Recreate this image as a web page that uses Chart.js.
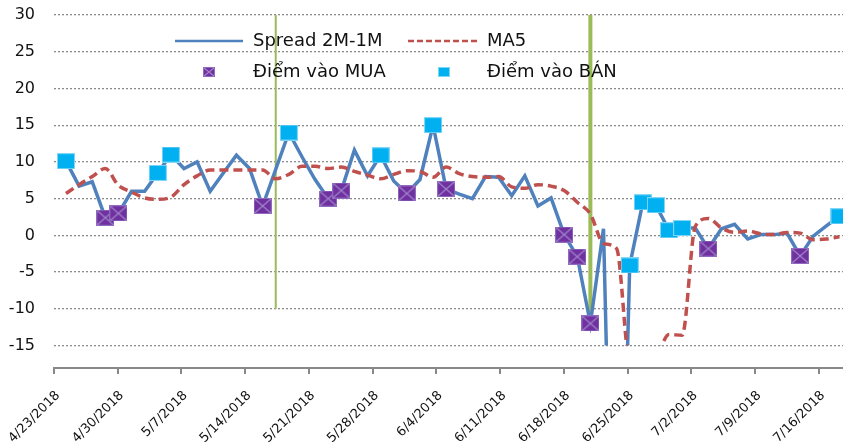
<!DOCTYPE html>
<html>
<head>
<meta charset="utf-8">
<script src="https://cdn.jsdelivr.net/npm/chart.js@4.4.1/dist/chart.umd.min.js"></script>
<style>
  html, body { margin: 0; padding: 0; background: #fff; }
  #wrap { width: 843px; height: 442px; }
</style>
</head>
<body>
<div id="wrap"><canvas id="chart"></canvas></div>
<script>
// weekly date labels on the bottom axis (one every 7 days from 4/23)
const weekLabels = ['4/23/2018', '4/30/2018', '5/7/2018', '5/14/2018', '5/21/2018', '5/28/2018',
  '6/4/2018', '6/11/2018', '6/18/2018', '6/25/2018', '7/2/2018', '7/9/2018', '7/16/2018'];

// spread 2M-1M, one value per session
const spread = [10.1, 6.7, 7.3, 2.4, 3.0, 6.0, 6.0, 8.5, 11.0, 9.1,
  10.0, 6.0, 8.5, 10.9, 9.1, 4.0, 9.0, 14.0, 10.7, 7.6,
  5.0, 6.1, 11.6, 8.1, 10.9, 7.4, 5.7, 7.6, 15.0, 6.3,
  5.6, 5.0, 8.0, 7.9, 5.4, 8.1, 4.0, 5.1, 0.1, -2.9,
  -12.0, 0.9, -73, -4.1, 4.5, 4.1, 0.7, 1.0, 1.0, -1.8,
  0.9, 1.5, -0.5, 0.1, 0.1, 0.3, -2.8, -0.1, 1.3, 2.6];

const ma5 = [5.7, 6.9, 8.0, 9.1, 6.8, 5.9, 5.1, 4.9, 5.2, 6.9,
  8.1, 8.9, 8.9, 8.9, 8.9, 8.9, 7.7, 8.3, 9.4, 9.4,
  9.1, 9.3, 8.7, 8.2, 7.7, 8.3, 8.8, 8.7, 7.9, 9.3,
  8.4, 8.0, 7.9, 8.0, 6.6, 6.4, 6.9, 6.7, 6.1, 4.5,
  2.9, -1.1, -1.8, -17.4, -18.2, -16.7, -13.5, -13.6, 1.2, 2.3,
  1.0, 0.4, 0.6, 0.2, 0.1, 0.4, 0.3, -0.6, -0.5, -0.2];

// sessions flagged as entry points
const buyIdx = [3, 4, 15, 20, 21, 26, 29, 38, 39, 40, 49, 56];
const sellIdx = [0, 7, 8, 17, 24, 28, 43, 44, 45, 46, 47, 59];

// green signal lines: session index and how low they reach
const signalIdx = [16, 40];
const signalLow = [-10, -11];

const seriesNames = ['Spread 2M-1M', 'MA5', 'Điểm vào MUA', 'Điểm vào BÁN'];

const BLUE = '#4F81BD', RED = '#C0504D', PURPLE = '#7030A0', CYAN = '#00B0F0', GREEN = '#9BBB59';
const yFloor = -15;

function makeMarker(w, h, fill, edge, cross) {
  const c = document.createElement('canvas');
  c.width = w; c.height = h;
  const g = c.getContext('2d');
  g.fillStyle = fill;
  g.fillRect(0, 0, w, h);
  g.strokeStyle = edge;
  g.lineWidth = 1;
  g.strokeRect(0.5, 0.5, w - 1, h - 1);
  if (cross) {
    g.strokeStyle = cross;
    g.lineWidth = 1.2;
    g.beginPath();
    g.moveTo(1, 1); g.lineTo(w - 1, h - 1);
    g.moveTo(w - 1, 1); g.lineTo(1, h - 1);
    g.stroke();
  }
  return c;
}

const buyMark = makeMarker(18, 16, PURPLE, '#8E6BBE', '#9F86C9');
const sellMark = makeMarker(18, 16, CYAN, '#7FD6F7');
const buyMarkSmall = makeMarker(12, 10, PURPLE, '#8E6BBE', '#9F86C9');
const sellMarkSmall = makeMarker(12, 10, CYAN, '#7FD6F7');

// keep the lines inside the -15 floor and draw the signal lines behind them
const floorClip = {
  id: 'floorClip',
  beforeDatasetsDraw(chart) {
    const { ctx, chartArea: a, scales } = chart;
    const floor = scales.y.getPixelForValue(yFloor);
    ctx.save();
    ctx.beginPath();
    ctx.rect(a.left, a.top - 10, a.right - a.left, floor - a.top + 10);
    ctx.clip();
    signalIdx.forEach((idx, k) => {
      const x = scales.xi.getPixelForValue(idx);
      ctx.strokeStyle = GREEN;
      ctx.lineWidth = k === 0 ? 2 : 4;
      ctx.beginPath();
      ctx.moveTo(x, scales.y.getPixelForValue(30));
      ctx.lineTo(x, scales.y.getPixelForValue(signalLow[k]));
      ctx.stroke();
    });
  },
  afterDatasetsDraw(chart) {
    chart.ctx.restore();
  }
};

const insideLegend = {
  id: 'insideLegend',
  afterDraw(chart) {
    const ctx = chart.ctx;
    ctx.save();
    ctx.font = '18px "DejaVu Sans"';
    ctx.fillStyle = '#111';
    ctx.textBaseline = 'middle';
    // row 1
    ctx.strokeStyle = BLUE; ctx.lineWidth = 2.5;
    ctx.beginPath(); ctx.moveTo(175, 41); ctx.lineTo(243, 41); ctx.stroke();
    ctx.fillText(seriesNames[0], 253, 41);
    ctx.strokeStyle = RED; ctx.lineWidth = 2.5; ctx.setLineDash([6, 3]);
    ctx.beginPath(); ctx.moveTo(408, 41); ctx.lineTo(480, 41); ctx.stroke();
    ctx.setLineDash([]);
    ctx.fillText(seriesNames[1], 487, 41);
    // row 2
    ctx.drawImage(buyMarkSmall, 209 - 6, 72 - 5);
    ctx.fillText(seriesNames[2], 253, 72);
    ctx.drawImage(sellMarkSmall, 444 - 6, 72 - 5);
    ctx.fillText(seriesNames[3], 487, 72);
    ctx.restore();
  }
};

const pts = spread.map((v, i) => ({ x: i, y: v }));
const maPts = ma5.map((v, i) => ({ x: i, y: v }));
const buyPts = buyIdx.map(i => ({ x: i, y: spread[i] }));
const sellPts = sellIdx.map(i => ({ x: i, y: spread[i] }));

new Chart(document.getElementById('chart'), {
  type: 'line',
  data: {
    datasets: [
      { label: seriesNames[0], data: pts, xAxisID: 'xi', borderColor: BLUE, borderWidth: 3.5,
        pointRadius: 0, tension: 0, order: 3 },
      { label: seriesNames[1], data: maPts, xAxisID: 'xi', borderColor: RED, borderWidth: 3.5,
        borderDash: [9, 5], pointRadius: 0, cubicInterpolationMode: 'monotone', order: 2 },
      { label: seriesNames[2], data: buyPts, xAxisID: 'xi', showLine: false,
        pointStyle: buyMark, pointRadius: 9, order: 1 },
      { label: seriesNames[3], data: sellPts, xAxisID: 'xi', showLine: false,
        pointStyle: sellMark, pointRadius: 9, order: 0 }
    ]
  },
  options: {
    responsive: true,
    maintainAspectRatio: false,
    animation: false,
    layout: { autoPadding: false, padding: { top: 15, right: 0, bottom: 0, left: 0 } },
    plugins: { legend: { display: false }, tooltip: { enabled: false } },
    scales: {
      xi: { type: 'linear', display: false, min: -0.915, max: 59.27 },
      x: {
        type: 'linear', position: 'bottom', min: 0, max: 86.64,
        afterBuildTicks: s => { s.ticks = s.ticks.filter(t => t.value % 7 === 0 && t.value / 7 < weekLabels.length); },
        afterFit: s => { s.height = 74; s.paddingLeft = 0; s.paddingRight = 0; },
        ticks: {
          stepSize: 7, includeBounds: false, autoSkip: false, maxRotation: 45, minRotation: 45,
          labelOffset: 4, padding: 14,
          callback: v => weekLabels[v / 7],
          font: { family: 'DejaVu Sans', size: 13 }, color: '#111'
        },
        grid: { drawOnChartArea: false, drawTicks: true, tickLength: 6, color: '#888', lineWidth: 2 },
        border: { display: true, color: '#888', width: 2 }
      },
      y: {
        min: -18.06, max: 30,
        afterBuildTicks: s => { s.ticks = s.ticks.filter(t => t.value >= yFloor && t.value % 5 === 0); },
        afterFit: s => { s.width = 54; s.paddingTop = 0; s.paddingBottom = 0; },
        ticks: { stepSize: 5, includeBounds: false, padding: 19,
          font: { family: 'DejaVu Sans', size: 16 }, color: '#111' },
        grid: { drawTicks: false, color: '#8c8c8c', lineWidth: 1.3 },
        border: { display: false, dash: [2, 2] }
      }
    }
  },
  plugins: [floorClip, insideLegend]
});
</script>
</body>
</html>
